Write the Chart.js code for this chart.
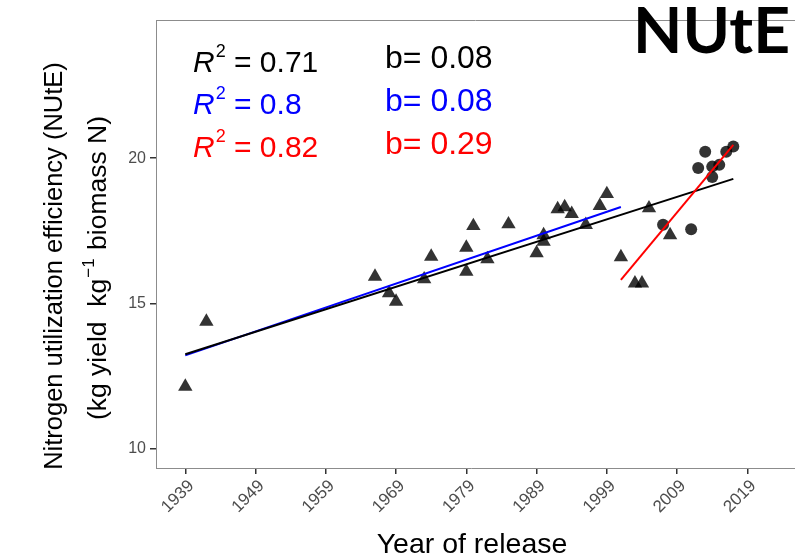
<!DOCTYPE html>
<html>
<head>
<meta charset="utf-8">
<script src="https://cdn.jsdelivr.net/npm/chart.js@4.4.1/dist/chart.umd.min.js"></script>
<style>
  html, body { margin: 0; padding: 0; background: #fff; overflow: hidden; }
  #wrap { width: 795px; height: 559px; position: relative; }
  canvas { display: block; }
</style>
</head>
<body>
<div id="wrap"><canvas id="nute-chart"></canvas></div>
<script>
// cultivars before 2006 (triangles)
const triYears = [1939, 1942, 1966, 1968, 1969, 1973, 1974, 1979, 1979, 1980, 1982, 1985, 1989, 1990, 1990,
                  1992, 1993, 1994, 1996, 1998, 1999, 2001, 2003, 2004, 2005, 2008];
const triValues = [12.15, 14.38, 15.93, 15.36, 15.07, 15.84, 16.62, 16.10, 16.93, 17.67, 16.53, 17.73, 16.74, 17.36, 17.13,
                   18.25, 18.32, 18.09, 17.71, 18.36, 18.77, 16.60, 15.70, 15.70, 18.28, 17.36];
// recent cultivars (circles)
const dotYears = [2007, 2011, 2012, 2013, 2014, 2014, 2015, 2016, 2017];
const dotValues = [17.71, 17.56, 19.66, 20.22, 19.71, 19.35, 19.77, 20.22, 20.40];

// fitted lines
const fitAllYears = [1939, 2017];
const fitAllValues = [13.26, 19.29];
const fitOldYears = [1939, 2001];
const fitOldValues = [13.22, 18.32];
const fitNewYears = [2001, 2017];
const fitNewValues = [15.82, 20.46];

const xTicks = [1939, 1949, 1959, 1969, 1979, 1989, 1999, 2009, 2019];
const yTicks = [10, 15, 20];

const r2Labels = ['0.71', '0.8', '0.82'];
const slopeLabels = ['0.08', '0.08', '0.29'];
const statColors = ['#000000', '#0000ff', '#ff0000'];

const pts = (xs, ys) => xs.map((x, i) => ({ x: x, y: ys[i] }));
const FONT = '"Liberation Sans", Arial, sans-serif';

const decorPlugin = {
    id: 'decor',
    afterDraw(chart) {
        const ctx = chart.ctx;
        const area = chart.chartArea;
        ctx.save();
        // frame: top line, and the bottom line carried on to the edge
        ctx.strokeStyle = '#8c8c8c';
        ctx.lineWidth = 1;
        ctx.beginPath();
        ctx.moveTo(area.left, area.top + 0.5);
        ctx.lineTo(chart.width, area.top + 0.5);
        ctx.moveTo(area.right - 1, area.bottom + 0.5);
        ctx.lineTo(chart.width, area.bottom + 0.5);
        ctx.stroke();

        // R^2 and slope annotations
        const rowR = [72, 114, 157];
        const rowB = [68, 111, 154];
        ctx.textBaseline = 'alphabetic';
        ctx.textAlign = 'left';
        for (let i = 0; i < 3; i++) {
            ctx.fillStyle = statColors[i];
            let x = 193;
            ctx.font = 'italic 30px ' + FONT;
            ctx.fillText('R', x, rowR[i]);
            x += ctx.measureText('R').width + 1;
            ctx.font = '18px ' + FONT;
            ctx.fillText('2', x, rowR[i] - 15);
            x += ctx.measureText('2').width;
            ctx.font = '30px ' + FONT;
            ctx.fillText(' = ' + r2Labels[i], x, rowR[i]);
            ctx.font = '32px ' + FONT;
            ctx.fillText('b= ' + slopeLabels[i], 385, rowB[i]);
        }

        // panel tag
        ctx.fillStyle = '#000';
        ctx.font = 'bold 64px Lato, "Open Sans", sans-serif';
        const tw = ctx.measureText('NUtE').width;
        ctx.save();
        ctx.translate(633, 53);
        ctx.scale(157 / tw, 1);
        ctx.fillText('NUtE', 0, 0);
        ctx.restore();

        // axis titles
        ctx.fillStyle = '#000';
        ctx.textAlign = 'center';
        ctx.textBaseline = 'middle';
        ctx.font = '28.5px ' + FONT;
        ctx.fillText('Year of release', 472, 545);

        ctx.save();
        ctx.translate(55, 266);
        ctx.rotate(-Math.PI / 2);
        ctx.font = '25.5px ' + FONT;
        ctx.fillText('Nitrogen utilization efficiency (NUtE)', 0, 0);
        ctx.restore();

        // second title line with a real superscript
        const partA = '(kg yield  kg';
        const partSup = '\u22121';
        const partB = ' biomass N)';
        const big = '26.5px ' + FONT;
        const small = '17px ' + FONT;
        ctx.font = big;
        const wA = ctx.measureText(partA).width;
        const wB = ctx.measureText(partB).width;
        ctx.font = small;
        const wS = ctx.measureText(partSup).width + 2;
        const total = wA + wS + wB;
        ctx.save();
        ctx.translate(97, 268);
        ctx.rotate(-Math.PI / 2);
        ctx.textAlign = 'left';
        ctx.textBaseline = 'alphabetic';
        let x0 = -total / 2;
        const base = 9;
        ctx.font = big;
        ctx.fillText(partA, x0, base);
        ctx.font = small;
        ctx.fillText(partSup, x0 + wA + 1, base - 12);
        ctx.font = big;
        ctx.fillText(partB, x0 + wA + wS, base);
        ctx.restore();
        ctx.restore();
    }
};

const ctx = document.getElementById('nute-chart').getContext('2d');
new Chart(ctx, {
    type: 'scatter',
    data: {
        datasets: [
            {
                data: pts(fitNewYears, fitNewValues),
                showLine: true,
                borderColor: '#ff0000',
                borderWidth: 2,
                pointRadius: 0,
            },
            {
                data: pts(fitAllYears, fitAllValues),
                showLine: true,
                borderColor: '#000000',
                borderWidth: 2,
                pointRadius: 0,
            },
            {
                data: pts(fitOldYears, fitOldValues),
                showLine: true,
                borderColor: '#0000ff',
                borderWidth: 2,
                pointRadius: 0,
            },
            {
                data: pts(dotYears, dotValues),
                pointStyle: 'circle',
                pointRadius: 6,
                backgroundColor: 'rgba(0, 0, 0, 0.8)',
                borderWidth: 0,
            },
            {
                data: pts(triYears, triValues),
                pointStyle: 'triangle',
                pointRadius: 8.3,
                backgroundColor: 'rgba(0, 0, 0, 0.8)',
                borderWidth: 0,
            },
        ]
    },
    options: {
        responsive: true,
        maintainAspectRatio: false,
        animation: false,
        events: [],
        layout: {
            padding: { top: 20, right: 0, left: 0, bottom: 0 }
        },
        plugins: {
            legend: { display: false },
            tooltip: { enabled: false },
        },
        scales: {
            x: {
                type: 'linear',
                min: 1934.83,
                max: 2024.6,
                afterBuildTicks: (scale) => { scale.ticks = xTicks.map(v => ({ value: v })); },
                afterFit: (scale) => {
                    scale.height = 91;
                    scale.paddingLeft = 0;
                    scale.paddingRight = 0;
                },
                ticks: {
                    autoSkip: false,
                    minRotation: 45,
                    maxRotation: 45,
                    padding: 2,
                    labelOffset: 6,
                    color: '#4d4d4d',
                    font: { size: 17, family: FONT },
                    callback: (v) => String(v),
                },
                grid: {
                    drawOnChartArea: false,
                    drawTicks: true,
                    tickLength: 6,
                    color: '#333333',
                    lineWidth: 1.5,
                },
                border: { display: true, color: '#8c8c8c', width: 1 },
            },
            y: {
                min: 9.35,
                max: 24.75,
                afterBuildTicks: (scale) => { scale.ticks = yTicks.map(v => ({ value: v })); },
                afterFit: (scale) => {
                    scale.width = 156;
                    scale.paddingTop = 0;
                    scale.paddingBottom = 0;
                },
                ticks: {
                    padding: 4,
                    color: '#4d4d4d',
                    font: { size: 16, family: FONT },
                    callback: (v) => String(v),
                },
                grid: {
                    drawOnChartArea: false,
                    drawTicks: true,
                    tickLength: 6,
                    color: '#333333',
                    lineWidth: 1.5,
                },
                border: { display: true, color: '#8c8c8c', width: 1 },
            }
        }
    },
    plugins: [decorPlugin]
});
</script>
</body>
</html>
